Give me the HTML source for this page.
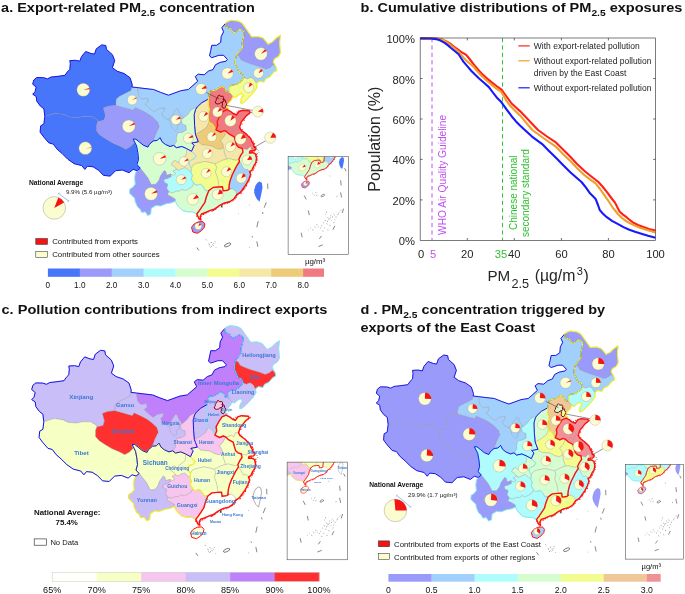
<!DOCTYPE html>
<html><head><meta charset="utf-8"><title>PM2.5 figure</title>
<style>html,body{margin:0;padding:0;background:#fff}svg{display:block}</style></head><body>
<svg width="685" height="594" viewBox="0 0 685 594" font-family="'Liberation Sans', Arial, sans-serif">
<rect width="685" height="594" fill="#fff"/>
<defs>
<path id="pXJ" d="M44.8,116.4 43.9,108.8 40.3,106 36.8,101.2 36.2,96.5 32.7,94.2 35,91.8 36.2,87.1 32.7,84.2 33.8,80 36.8,77.5 43.8,77.7 47.4,78.9 50.9,77.1 58,76.3 65,75.3 67.4,71.8 69.8,69.4 70.3,63.6 69.8,60.6 75.6,60.3 79.8,61.2 81.5,56.5 85.7,51.5 91,53.5 94.5,54.1 96.3,48.8 101.6,44.9 105.8,45.5 106.5,49.4 112.4,54.7 114.7,60.6 112.4,67.7 117.1,71.2 124.2,73.6 130,77.7 132.2,84.5 132,87 131.2,90.6 125.3,93.6 119.4,96.5 116.5,98.9 115.9,103.6 116.3,105.4 108.9,106.1 103.5,108.1 105.5,115.5 104.1,120.2 98,121.5 96.7,119.5 91.8,116.4 83,116.4 77.9,117.6 69.1,117 64.1,114.5 55.2,113.2Z"/>
<path id="pXZ" d="M44.8,116.4 55.2,113.2 64.1,114.5 69.1,117 77.9,117.6 83,116.4 91.8,116.4 96.7,119.5 98,121.5 96.7,124.9 96.7,131 100.1,135 106.2,139.1 112.9,143.1 121,146.5 125.7,149.2 130.4,146.5 133.8,143.1 133.1,139.1 136.5,145.8 137.8,152.5 138.5,159.3 137,164.6 140.2,168.2 137.1,170.6 133.1,169.4 129.1,172.7 122.3,170 115.6,170.7 110.2,176.1 103.5,175.4 98.6,170.3 93.1,166.8 87.4,166.2 84.9,169.4 81.7,165.6 74.2,163.7 67.9,159.3 62.2,153.6 57.1,149.2 53.3,144.1 48.9,142.9 43.9,137.2 40.1,132.1 40.7,125.8 43.9,123.9Z"/>
<path id="pQH" d="M98,121.5 104.1,120.2 105.5,115.5 103.5,108.1 108.9,106.1 116.3,105.4 123.7,107.4 133.1,110.1 135.1,107.4 141.2,110.1 147.9,113.5 153.3,117.5 158,122.2 159.4,126.9 156,133.7 154.6,137.7 153.3,140.9 149.3,144.4 147.9,147.1 143.2,145.1 139.2,141.8 135.8,139.1 133.1,139.1 133.8,143.1 130.4,146.5 125.7,149.2 121,146.5 112.9,143.1 106.2,139.1 100.1,135 96.7,131 96.7,124.9Z"/>
<path id="pGS" d="M116.3,105.4 115.9,103.6 116.5,98.9 119.4,96.5 125.3,93.6 131.2,90.6 132,87 137.5,87.6 138.8,95.9 141.8,98.8 147.7,98.2 148.3,101.8 145.3,104.1 148.8,107.7 154.1,111.8 158.3,108.8 164.7,107.7 164.2,111.2 161.8,113 163.6,117.1 167.7,119.4 171.5,116.5 174.2,111.8 176.5,108.8 178.3,109.4 178.9,111.8 181.8,116.5 183.6,118 181.2,119.4 182.4,124.2 185.9,125.3 186.5,130 182.4,132.4 177.7,133 176.5,137.1 176.5,141.8 174.5,144.5 176.5,147.7 173.6,145.4 170,146.5 165.4,144.4 162.1,141.8 160,137.7 157.3,140.4 153.3,140.9 154.6,137.7 156,133.7 159.4,126.9 158,122.2 153.3,117.5 147.9,113.5 141.2,110.1 135.1,107.4 133.1,110.1 123.7,107.4Z"/>
<path id="pIM" d="M137.5,87.6 143,88.3 153.6,89.5 160.7,92.4 168.5,95.2 180.9,90.7 188.3,89.5 193,85.4 197.7,81.2 195.3,76.5 198.3,74.2 204.2,74.8 208.3,71.2 213,69.5 215.4,64.8 220.1,62.4 226,61.2 227.4,59.5 223.6,55.3 218.9,55.3 211.8,57.7 209.5,55.9 210.7,50.6 211.8,45.3 216.5,45.3 220.7,42.4 221.2,36.5 223.6,31.8 221.8,27.7 225.7,23.2 226.2,27.3 230.3,28.4 233.4,32.9 237,31.4 240,28.9 244.1,31.9 243.6,37.5 242.1,42.7 242.6,47.8 239,51.9 236.5,54.9 235.4,60 235.4,64.1 237,67.2 238.9,72.3 242.7,73.6 244,77.5 241.2,81.5 236.5,84.4 231.8,85 229.5,86.8 229.5,92.4 225.9,91.5 225.3,88.5 221.8,86.2 215.3,90.3 210,90.9 208.3,99.1 201.8,102.7 197.2,107 191.2,110 187.7,114.7 183.6,118 181.8,116.5 178.9,111.8 178.3,109.4 176.5,108.8 174.2,111.8 171.5,116.5 167.7,119.4 163.6,117.1 161.8,113 164.2,111.2 164.7,107.7 158.3,108.8 154.1,111.8 148.8,107.7 145.3,104.1 148.3,101.8 147.7,98.2 141.8,98.8 138.8,95.9Z"/>
<path id="pHL" d="M225.7,23.2 227.3,21.7 231.4,20.2 238.5,21.2 242.1,23.2 245.7,28.3 249.7,34 251.8,37 257.9,36.5 263,38.1 266.1,41.6 268.1,44.2 272.2,42.1 276.3,38.1 280.4,35.3 279.6,42.7 280.4,52.9 278.4,56.5 274.3,59 273.2,62.1 276,67 273.2,65.1 270.2,67.7 266.1,69.2 261,67.2 255.9,65.6 250.8,64.1 245.7,62.1 241.1,60 239.5,57 236.5,54.9 239,51.9 242.6,47.8 242.1,42.7 243.6,37.5 244.1,31.9 240,28.9 237,31.4 233.4,32.9 230.3,28.4 226.2,27.3Z"/>
<path id="pJL" d="M236.5,54.9 239.5,57 241.1,60 245.7,62.1 250.8,64.1 255.9,65.6 261,67.2 266.1,69.2 270.2,67.7 273.2,65.1 276,67 276.8,70.6 273.8,72.1 270,76.7 265.5,78.9 263.9,82 259.4,81.2 256.4,83.5 254.1,79.7 251.1,77.4 247.3,78.9 244,77.5 242.7,73.6 238.9,72.3 237,67.2 235.4,64.1 235.4,60Z"/>
<path id="pLN" d="M244,77.5 247.3,78.9 251.1,77.4 254.1,79.7 256.4,83.5 257.1,87.3 254.1,91.8 250.3,96 246,100.3 242.4,103.3 240.7,103 241.2,98.6 243.5,95.5 241.2,93.3 238.3,95 235.5,97.5 233,96.8 229.5,92.4 229.5,86.8 231.8,85 236.5,84.4 241.2,81.5Z"/>
<path id="pHE" d="M208.3,99.1 210,90.9 215.3,90.3 221.8,86.2 225.3,88.5 225.9,91.5 229.5,92.4 233,96.8 231.2,100.3 227.7,103.9 226.5,107.4 228.9,108.6 227.1,109.7 223,111.5 219.5,116.8 217.1,121.5 217.7,125.6 215.9,129.8 212.4,123.9 208.9,122.1 208.3,115 209.4,109.2 208.3,105Z"/>
<path id="pSX" d="M197.2,107 201.8,102.7 208.3,99.1 208.3,105 209.4,109.2 208.3,115 208.9,122.1 207.1,126.8 202.4,130.4 196.5,133.9 195.4,134.2 194.6,125.3 194.2,114.7 195.6,109.5Z"/>
<path id="pSN" d="M183.6,118 187.7,114.7 191.2,110 197.2,107 195.6,109.5 194.2,114.7 194.6,125.3 195.4,134.2 196.5,137.1 198.3,141.8 191.8,143 194.2,145.4 191.5,151.3 186.5,148.5 181.8,146.5 176.5,147.7 174.5,144.5 176.5,141.8 176.5,137.1 177.7,133 182.4,132.4 186.5,130 185.9,125.3 182.4,124.2 181.2,119.4Z"/>
<path id="pHA" d="M195.4,134.2 196.5,133.9 202.4,130.4 207.1,126.8 208.9,122.1 212.4,123.9 215.9,129.8 220.6,132.1 224.2,130.6 226,131.2 225.4,134.2 224.2,136.5 220.7,140.6 223,144.2 223.6,147.7 220.1,149.5 215.4,148.3 211.2,145.9 206.5,145.3 201.8,144.8 198.3,141.8 196.5,137.1Z"/>
<path id="pSD" d="M215.9,129.8 217.7,125.6 217.1,121.5 219.5,116.8 223,111.5 227.1,109.7 230.6,111.5 233.6,113.9 236.5,115 238.9,111.5 242.4,110.3 249.5,110.9 250.1,112.7 246.5,115.6 243.6,119.2 241.2,122.1 240.1,125.6 239.5,127.4 236.5,127.4 234.8,131.5 232.4,129.8 228.3,131.5 226,131.2 224.2,130.6 220.6,132.1Z"/>
<path id="pJS" d="M226,131.2 228.3,131.5 232.4,129.8 234.8,131.5 236.5,127.4 239.5,127.4 241.2,130.4 246,133.9 250.7,138.6 251.8,141.5 253.6,144.4 253.6,146.2 251.8,146.8 249.5,147.4 247.1,149.7 244.2,149.1 242.4,148.6 238.9,147.4 236.5,145 235.3,140.9 234.2,136.8 229.4,134.2Z"/>
<path id="pAH" d="M226,131.2 229.4,134.2 234.2,136.8 235.3,140.9 236.5,145 238.9,147.4 242.4,148.6 243,152.1 240.6,155.6 238.9,159.2 236.5,160.3 233,159.7 229.4,158.6 226.5,159.2 225.3,155.6 224.1,152.1 223.6,147.7 223,144.2 220.7,140.6 224.2,136.5 225.4,134.2Z"/>
<path id="pHB" d="M198.3,141.8 201.8,144.8 206.5,145.3 211.2,145.9 215.4,148.3 220.1,149.5 223.6,147.7 224.1,152.1 225.3,155.6 226.5,159.2 222.4,160.3 218.8,162.1 215.3,163.9 210.6,162.7 204.7,161.5 200,162.7 196,163.5 193,165.3 191.5,168 189.5,165.3 188.9,161.8 191.2,160 194.2,158.8 196,155.9 191.5,151.3 194.2,145.4 191.8,143Z"/>
<path id="pZJ" d="M242.4,148.6 244.2,149.1 247.1,149.7 249.5,147.4 251.8,146.8 253.6,146.2 256,148.5 254.5,150.5 250,151 249.5,153 252.4,152.7 255.4,153.9 256.5,158 255.9,162.7 253.6,166.2 251.8,170.3 249.5,171.5 247.1,169.2 244.8,169.8 243,167.4 241.2,163.9 239.5,161.5 238.9,159.2 240.6,155.6 243,152.1Z"/>
<path id="pJX" d="M226.5,159.2 229.4,158.6 233,159.7 236.5,160.3 238.9,159.2 239.5,161.5 236.5,166.2 234.2,170.9 232.4,174.5 230.6,179.2 229.4,183.9 228.9,188.6 229.5,189 227.8,190.2 223.1,190.9 222.5,186.8 218.4,187 218.8,186.2 218.3,181.5 217.1,176.8 215.3,172.1 216.5,167.4 215.3,163.9 218.8,162.1 222.4,160.3Z"/>
<path id="pFJ" d="M239.5,161.5 241.2,163.9 243,167.4 244.8,169.8 247.1,169.2 249.5,171.5 250.6,174.5 248.9,179.2 246.5,183.9 243.6,188 240.6,192.1 236.6,194.9 235.9,191.6 232.6,188.9 229.5,189 228.9,188.6 229.4,183.9 230.6,179.2 232.4,174.5 234.2,170.9 236.5,166.2Z"/>
<path id="pGD" d="M208.8,190.6 213,187.5 218.4,187 222.5,186.8 223.1,190.9 227.8,190.2 229.5,189 232.6,188.9 235.9,191.6 236.6,194.9 233.9,199 229.9,201.7 224.5,203 219.1,205.7 214.4,209.1 210.3,210.4 205.6,212.5 201.6,213.8 200.2,216.5 200.9,219.9 198.9,218.5 196.8,214 199.5,210.4 202.2,206.4 204.9,202.3 206.3,197Z"/>
<path id="pHN" d="M191.5,168 193,165.3 196,163.5 200,162.7 204.7,161.5 210.6,162.7 215.3,163.9 216.5,167.4 215.3,172.1 217.1,176.8 218.3,181.5 218.8,186.2 218.4,187 213,187.5 208.8,190.6 205.4,190.6 203,186.5 200.7,184.2 196,185.3 193.8,183.5 191.2,179.4 192.4,175.3 190.7,172.4Z"/>
<path id="pCQ" d="M186.5,148.5 191.5,151.3 196,155.9 194.2,158.8 191.2,160 188.9,161.8 189.5,165.3 191.5,168 190.7,172.4 188.3,170 185.4,167.7 181.8,168.8 178.9,170.6 176.5,169.4 174.2,166.5 171.2,164.7 173,161.2 175.9,160.4 178.3,163 180.1,160 183.6,157.1 185.9,155.3 186.5,152.4Z"/>
<path id="pSC" d="M133.1,139.1 135.8,139.1 139.2,141.8 143.2,145.1 147.9,147.1 149.3,144.4 153.3,140.9 157.3,140.4 160,137.7 162.1,141.8 165.4,144.4 170,146.5 173.6,145.4 176.5,147.7 181.8,146.5 186.5,148.5 186.5,152.4 185.9,155.3 183.6,157.1 180.1,160 178.3,163 175.9,160.4 173,161.2 171.2,164.7 174.2,166.5 176.5,169.4 173,171.2 175.9,173.6 173.6,175.3 170.6,174.1 166.5,175.3 165.9,171.8 164.2,170.6 160.6,175.9 158.9,180.6 155.9,184.2 151.2,184.7 147.7,177.7 144.1,173 140.2,168.2 137,164.6 138.5,159.3 137.8,152.5 136.5,145.8Z"/>
<path id="pGZ" d="M170.6,174.1 173.6,175.3 175.9,173.6 173,171.2 176.5,169.4 178.9,170.6 181.8,168.8 185.4,167.7 188.3,170 190.7,172.4 192.4,175.3 191.2,179.4 193.8,183.5 192.4,186.5 188.9,188.9 185.4,190.6 181.8,189.5 179.5,191.2 176.5,191.2 172.4,193 168.9,191.8 166.5,188.3 167.7,184.2 164.2,182.4 163.6,179.4 167.7,178.3 171.2,176.5Z"/>
<path id="pYN" d="M140.2,168.2 144.1,173 147.7,177.7 151.2,184.7 155.9,184.2 158.9,180.6 160.6,175.9 164.2,170.6 165.9,171.8 166.5,175.3 170.6,174.1 171.2,176.5 167.7,178.3 163.6,179.4 164.2,182.4 167.7,184.2 166.5,188.3 168.9,191.8 167.7,194.8 171.2,196.5 175.3,198.9 175.3,201.2 170.6,203 166.5,203.6 160.6,205.9 155.9,205.4 151.2,208.3 150.6,214.2 147.7,215.4 145.3,211.8 141.8,212.4 140,208.9 137.7,207.1 135.3,201.8 134.7,198.3 131.8,195.3 129.5,193 130,188.9 132.4,187.7 135.3,184.2 134.7,178.3 135.3,173.6 137.1,170.6Z"/>
<path id="pGX" d="M168.9,191.8 172.4,193 176.5,191.2 179.5,191.2 181.8,189.5 185.4,190.6 188.9,188.9 192.4,186.5 193.8,183.5 196,185.3 200.7,184.2 203,186.5 205.4,190.6 208.8,190.6 206.3,197 204.9,202.3 202.2,206.4 199.5,210.4 196.8,214 192.4,211.8 187.7,211.8 183,210.7 179.5,207.7 177.1,204.8 175.3,201.2 175.3,198.9 171.2,196.5 167.7,194.8Z"/>
<path id="rNW" d="M137.1,170.6 133.1,169.4 129.1,172.7 122.3,170 115.6,170.7 110.2,176.1 103.5,175.4 98.6,170.3 93.1,166.8 87.4,166.2 84.9,169.4 81.7,165.6 74.2,163.7 67.9,159.3 62.2,153.6 57.1,149.2 53.3,144.1 48.9,142.9 43.9,137.2 40.1,132.1 40.7,125.8 43.9,123.9 44.8,116.4 43.9,108.8 40.3,106 36.8,101.2 36.2,96.5 32.7,94.2 35,91.8 36.2,87.1 32.7,84.2 33.8,80 36.8,77.5 43.8,77.7 47.4,78.9 50.9,77.1 58,76.3 65,75.3 67.4,71.8 69.8,69.4 70.3,63.6 69.8,60.6 75.6,60.3 79.8,61.2 81.5,56.5 85.7,51.5 91,53.5 94.5,54.1 96.3,48.8 101.6,44.9 105.8,45.5 106.5,49.4 112.4,54.7 114.7,60.6 112.4,67.7 117.1,71.2 124.2,73.6 130,77.7 132.2,84.5 132,87 137.5,87.6 143,88.3 153.6,89.5 160.7,92.4 168.5,95.2 180.9,90.7 188.3,89.5 193,85.4 197.7,81.2 195.3,76.5 198.3,74.2 204.2,74.8 208.3,71.2 213,69.5 215.4,64.8 220.1,62.4 226,61.2 227.4,59.5 223.6,55.3 218.9,55.3 211.8,57.7 209.5,55.9 210.7,50.6 211.8,45.3 216.5,45.3 220.7,42.4 221.2,36.5 223.6,31.8 221.8,27.7 225.7,23.2 226.2,27.3 230.3,28.4 233.4,32.9 237,31.4 240,28.9 244.1,31.9 243.6,37.5 242.1,42.7 242.6,47.8 239,51.9 236.5,54.9 235.4,60 235.4,64.1 237,67.2 238.9,72.3 242.7,73.6 244,77.5 241.2,81.5 236.5,84.4 231.8,85 229.5,86.8 229.5,92.4 225.9,91.5 225.3,88.5 221.8,86.2 215.3,90.3 210,90.9 208.3,99.1 201.8,102.7 197.2,107 195.6,109.5 194.2,114.7 194.6,125.3 195.4,134.2 196.5,137.1 198.3,141.8 191.8,143 194.2,145.4 191.5,151.3 186.5,148.5 181.8,146.5 176.5,147.7 173.6,145.4 170,146.5 165.4,144.4 162.1,141.8 160,137.7 157.3,140.4 153.3,140.9 149.3,144.4 147.9,147.1 143.2,145.1 139.2,141.8 135.8,139.1 133.1,139.1 136.5,145.8 137.8,152.5 138.5,159.3 137,164.6 140.2,168.2Z"/>
<path id="rNE" d="M225.7,23.2 227.3,21.7 231.4,20.2 238.5,21.2 242.1,23.2 245.7,28.3 249.7,34 251.8,37 257.9,36.5 263,38.1 266.1,41.6 268.1,44.2 272.2,42.1 276.3,38.1 280.4,35.3 279.6,42.7 280.4,52.9 278.4,56.5 274.3,59 273.2,62.1 276,67 276.8,70.6 273.8,72.1 270,76.7 265.5,78.9 263.9,82 259.4,81.2 256.4,83.5 257.1,87.3 254.1,91.8 250.3,96 246,100.3 242.4,103.3 240.7,103 241.2,98.6 243.5,95.5 241.2,93.3 238.3,95 235.5,97.5 233,96.8 231.2,100.3 227.7,103.9 226.5,107.4 228.9,108.6 227.1,109.7 223,111.5 219.5,116.8 217.1,121.5 217.7,125.6 215.9,129.8 212.4,123.9 208.9,122.1 208.3,115 209.4,109.2 208.3,105 208.3,99.1 210,90.9 215.3,90.3 221.8,86.2 225.3,88.5 225.9,91.5 229.5,92.4 229.5,86.8 231.8,85 236.5,84.4 241.2,81.5 244,77.5 242.7,73.6 238.9,72.3 237,67.2 235.4,64.1 235.4,60 236.5,54.9 239,51.9 242.6,47.8 242.1,42.7 243.6,37.5 244.1,31.9 240,28.9 237,31.4 233.4,32.9 230.3,28.4 226.2,27.3Z"/>
<path id="rSW" d="M133.1,139.1 135.8,139.1 139.2,141.8 143.2,145.1 147.9,147.1 149.3,144.4 153.3,140.9 157.3,140.4 160,137.7 162.1,141.8 165.4,144.4 170,146.5 173.6,145.4 176.5,147.7 181.8,146.5 186.5,148.5 191.5,151.3 196,155.9 194.2,158.8 191.2,160 188.9,161.8 189.5,165.3 191.5,168 190.7,172.4 192.4,175.3 191.2,179.4 193.8,183.5 196,185.3 200.7,184.2 203,186.5 205.4,190.6 208.8,190.6 206.3,197 204.9,202.3 202.2,206.4 199.5,210.4 196.8,214 192.4,211.8 187.7,211.8 183,210.7 179.5,207.7 177.1,204.8 175.3,201.2 170.6,203 166.5,203.6 160.6,205.9 155.9,205.4 151.2,208.3 150.6,214.2 147.7,215.4 145.3,211.8 141.8,212.4 140,208.9 137.7,207.1 135.3,201.8 134.7,198.3 131.8,195.3 129.5,193 130,188.9 132.4,187.7 135.3,184.2 134.7,178.3 135.3,173.6 137.1,170.6 140.2,168.2 137,164.6 138.5,159.3 137.8,152.5 136.5,145.8Z"/>
<path id="rEC" d="M215.9,129.8 217.7,125.6 217.1,121.5 219.5,116.8 223,111.5 227.1,109.7 230.6,111.5 233.6,113.9 236.5,115 238.9,111.5 242.4,110.3 249.5,110.9 250.1,112.7 246.5,115.6 243.6,119.2 241.2,122.1 240.1,125.6 239.5,127.4 241.2,130.4 246,133.9 250.7,138.6 251.8,141.5 253.6,144.4 253.6,146.2 256,148.5 254.5,150.5 250,151 249.5,153 252.4,152.7 255.4,153.9 256.5,158 255.9,162.7 253.6,166.2 251.8,170.3 249.5,171.5 250.6,174.5 248.9,179.2 246.5,183.9 243.6,188 240.6,192.1 236.6,194.9 233.9,199 229.9,201.7 224.5,203 219.1,205.7 214.4,209.1 210.3,210.4 205.6,212.5 201.6,213.8 200.2,216.5 200.9,219.9 198.9,218.5 196.8,214 199.5,210.4 202.2,206.4 204.9,202.3 206.3,197 208.8,190.6 213,187.5 218.4,187 222.5,186.8 223.1,190.9 227.8,190.2 229.5,189 228.9,188.6 229.4,183.9 230.6,179.2 232.4,174.5 234.2,170.9 236.5,166.2 239.5,161.5 238.9,159.2 240.6,155.6 243,152.1 242.4,148.6 238.9,147.4 236.5,145 235.3,140.9 234.2,136.8 229.4,134.2 226,131.2 224.2,130.6 220.6,132.1Z"/>
<path id="pHI" d="M191.5,227.3 194.2,223.9 198.2,221.9 202.9,221.5 204.9,223.9 204.3,227.3 201.6,230.6 197.5,233.3 192.8,232Z"/>
<path id="pTW" d="M259.5,181.5 261.9,182.8 262.5,187.5 261.5,192.9 260.2,199 259.5,201.7 256.8,199 254.8,194.9 254.1,190.2 255.5,185.5 257.5,182.8Z"/>
<path id="pBJ" d="M219,94.9 220.8,96.4 222.8,96.1 223.7,97.6 223.1,99.3 224.3,100.8 222.5,101.9 220.8,102.5 219.3,103.7 217.6,104 215.8,103.4 215.2,101.6 216.4,100.5 216.1,99 217.6,97.6 218.1,95.8Z"/>
<path id="pTJ" d="M223.1,99.3 224.3,99 225.4,100.5 225.7,102.2 226.9,103.7 226.3,105.4 225.4,107.2 224.3,108.4 222.8,107.8 221.9,106.3 222.5,104.9 222.2,103.1 222.5,101.9 224.3,100.8Z"/>
<path id="pSH" d="M251.8,146.8 253.6,146.2 256,148.5 254.5,150.5 251.5,150.2 250.5,148.3Z"/>
<path id="pNX" d="M167.7,119.4 170.6,121.2 171.2,126.5 175.3,130.6 177.7,128.9 177.1,125.3 179.5,124.2 180.6,119.4 183.6,118"/>
<g id="isl" fill="none" stroke="#111" stroke-width="0.5"><path d="M196.8,247.5L198.9,250.5M208.5,243.8L209.7,244.6M210.8,242L211.8,243M212.5,244.8L213.5,245.4M209.6,246.3L210.5,247.1M211.2,246L211.9,246.6M213.8,243.4L214.4,244M214.8,241.5L215.3,242.2M249.2,247.4L249.7,247.6M256.8,241.4L257.9,246.8M258.2,221.2L256.8,227.3M266.3,202.3L264.2,207.7M267.6,183.5L267.9,188.9M238.1,213.3L238.5,213.6M249.4,205L249.9,205.3M206,239.5L206.6,240.3M216,247.5L216.5,248M262.5,212L263,214M252,236L252.6,237.5M220.6,206.9L222.9,205.6M221,205.4L222.5,207.5M221.8,205L221.6,207.6M213.4,210.4L214.6,209.8M257.6,149.6L258.4,150.6M258.3,151.8L259,152.6M257.2,153.2L257.8,153.9M236.6,195.6L237.2,196.1M251.9,171.6L252.5,172.2M254.3,192.6L254.9,192.9"/><ellipse cx="227.6" cy="244.9" rx="3.4" ry="1.4" transform="rotate(-25 227.6 244.9)"/></g>
<g id="rough" fill="#ff1010"><circle cx="234.7" cy="113.3" r="0.6"/><circle cx="235.6" cy="114.3" r="0.6"/><circle cx="237" cy="112" r="0.6"/><circle cx="238.7" cy="110.8" r="0.4"/><circle cx="240.3" cy="110.8" r="0.5"/><circle cx="251.3" cy="112.3" r="0.6"/><circle cx="249.3" cy="114" r="0.4"/><circle cx="244.4" cy="120.2" r="0.5"/><circle cx="242" cy="123.2" r="0.4"/><circle cx="241.9" cy="124" r="0.6"/><circle cx="240.7" cy="124.8" r="0.4"/><circle cx="240.4" cy="127.6" r="0.4"/><circle cx="241.3" cy="129.9" r="0.5"/><circle cx="242.2" cy="129.6" r="0.6"/><circle cx="243.3" cy="131.4" r="0.5"/><circle cx="246.2" cy="133.5" r="0.4"/><circle cx="247.2" cy="134.7" r="0.4"/><circle cx="249.3" cy="136.3" r="0.5"/><circle cx="252.9" cy="141" r="0.6"/><circle cx="253.4" cy="142.1" r="0.7"/><circle cx="254.6" cy="143.7" r="0.6"/><circle cx="253.8" cy="144.6" r="0.7"/><circle cx="254.5" cy="146.4" r="0.6"/><circle cx="254.9" cy="146.9" r="0.6"/><circle cx="255.9" cy="147.3" r="0.6"/><circle cx="256.8" cy="149.5" r="0.4"/><circle cx="255.6" cy="150.2" r="0.4"/><circle cx="254.2" cy="151.4" r="0.4"/><circle cx="252.5" cy="152" r="0.6"/><circle cx="251.6" cy="151.2" r="0.4"/><circle cx="250.2" cy="152" r="0.7"/><circle cx="250.4" cy="152.4" r="0.6"/><circle cx="250.9" cy="152.6" r="0.5"/><circle cx="252.2" cy="151.7" r="0.6"/><circle cx="254" cy="152.7" r="0.6"/><circle cx="256.6" cy="154.2" r="0.7"/><circle cx="256.6" cy="156" r="0.6"/><circle cx="257" cy="156.5" r="0.7"/><circle cx="257" cy="158.9" r="0.6"/><circle cx="257.4" cy="159.8" r="0.4"/><circle cx="257.1" cy="160.5" r="0.5"/><circle cx="256.7" cy="162.4" r="0.6"/><circle cx="255.6" cy="164.2" r="0.6"/><circle cx="255.2" cy="165.9" r="0.6"/><circle cx="253.7" cy="167.3" r="0.6"/><circle cx="254" cy="168.1" r="0.7"/><circle cx="253.3" cy="169" r="0.5"/><circle cx="253.1" cy="170.2" r="0.6"/><circle cx="250.9" cy="171.3" r="0.4"/><circle cx="250.5" cy="171.5" r="0.5"/><circle cx="250.3" cy="172.1" r="0.6"/><circle cx="250.8" cy="174.7" r="0.7"/><circle cx="250.7" cy="176.8" r="0.5"/><circle cx="250.1" cy="177" r="0.5"/><circle cx="249.4" cy="179.2" r="0.4"/><circle cx="249.1" cy="180.3" r="0.6"/><circle cx="248.9" cy="181.9" r="0.6"/><circle cx="247.8" cy="182.3" r="0.4"/><circle cx="247" cy="183.7" r="0.4"/><circle cx="246.6" cy="185.1" r="0.6"/><circle cx="246.4" cy="185.9" r="0.7"/><circle cx="245.2" cy="187.5" r="0.4"/><circle cx="244.9" cy="188.3" r="0.5"/><circle cx="243.8" cy="189.5" r="0.7"/><circle cx="242.7" cy="189.9" r="0.6"/><circle cx="242.4" cy="191.3" r="0.4"/><circle cx="241.6" cy="192.8" r="0.5"/><circle cx="241" cy="193.3" r="0.6"/><circle cx="239.9" cy="193.4" r="0.5"/><circle cx="238.2" cy="194" r="0.6"/><circle cx="237" cy="195.1" r="0.5"/><circle cx="236.8" cy="195.2" r="0.5"/><circle cx="236.2" cy="197.3" r="0.7"/><circle cx="234.9" cy="198.1" r="0.4"/><circle cx="235.2" cy="198.8" r="0.6"/><circle cx="233.5" cy="200.2" r="0.5"/><circle cx="232.7" cy="201.2" r="0.4"/><circle cx="229.4" cy="202.3" r="0.5"/><circle cx="228.2" cy="202.3" r="0.7"/><circle cx="227.6" cy="203.4" r="0.5"/><circle cx="226" cy="202.9" r="0.5"/><circle cx="224.8" cy="204.2" r="0.4"/><circle cx="224.7" cy="203.7" r="0.6"/><circle cx="222.2" cy="204.6" r="0.6"/><circle cx="219.4" cy="205.8" r="0.4"/><circle cx="218.8" cy="206.6" r="0.5"/><circle cx="218.6" cy="207.3" r="0.4"/><circle cx="217.2" cy="207.6" r="0.5"/><circle cx="216.3" cy="208.5" r="0.5"/><circle cx="215.7" cy="209.3" r="0.6"/><circle cx="213.5" cy="210.3" r="0.6"/><circle cx="212.4" cy="210.9" r="0.7"/><circle cx="211.6" cy="211.3" r="0.4"/><circle cx="208.1" cy="212.5" r="0.4"/><circle cx="206.1" cy="213" r="0.6"/><circle cx="205.4" cy="213.6" r="0.4"/><circle cx="203.7" cy="214.4" r="0.7"/><circle cx="202.6" cy="214.6" r="0.5"/><circle cx="201.7" cy="214.2" r="0.4"/><circle cx="201.2" cy="216.2" r="0.5"/><circle cx="200.7" cy="216.6" r="0.6"/><circle cx="200.1" cy="220.9" r="0.5"/><circle cx="199.2" cy="219.6" r="0.5"/><circle cx="198.4" cy="217.9" r="0.6"/><circle cx="196.7" cy="216.2" r="0.5"/><circle cx="196.5" cy="215.3" r="0.4"/></g>
<g id="isl2" fill="none" stroke="#111"><path stroke-width="0.5" d="M344.6,168.2L346.1,171.2M340.6,180.3L341.2,185.4M340.6,192.4L341.6,197.5M343.6,208.6L342.2,213M334.9,225.8L332.9,229.8M321.4,235.9L319.4,238.9M301.2,232.8L302.2,237.3M308.3,210.6L309.3,215.1M304.2,195.5L306.3,199.5M318.4,246.6L322.8,244.9"/><path stroke-width="0.45" d="M312.3,193.4l0.5,-0.3M313.9,194.8l0.7,0.4M315.4,192.8l0.9,-0.5M316.4,195.5l0.9,-0.5M329.5,175.9l0.7,0.2M336.6,196.5l0.9,-0.3M325.5,214.6l0.5,0.4M327.5,217.7l0.9,0.4M330.5,215.7l0.7,-0.3M332.9,214.2l0.5,-0.3M335.6,216.7l0.9,0.4M337.6,214.6l0.9,-0.5M328.5,219.7l0.9,-0.5M331.5,220.7l0.5,-0.5M334.5,219.7l0.7,-0.5M323.4,222.7l0.7,0.4M326.5,223.7l0.9,0.4M329.5,225.2l0.9,0.4M321.4,225.8l0.7,0.4M318.4,226.8l0.5,0.2M315.4,227.8l0.5,-0.5M310.3,227.8l0.5,0.4M308.3,229.8l0.5,0.2M312.3,229.8l0.9,0.4M316.4,224.7l0.9,0.2M324.4,227.8l0.7,0.4M327.5,229.8l0.9,0.2M322.4,230.8l0.9,0.4M333.5,222.7l0.9,-0.3M338.6,213l0.7,-0.5M340.6,210.6l0.7,-0.3M326.1,212.2l0.9,0.2M329.7,218.3l0.9,-0.5M332.1,217.1l0.9,-0.3M324.8,220.3l0.9,0.2M320,228.4l0.7,-0.5M313.9,226.4l0.5,0.4M327.1,221.1l0.9,0.4M334.1,215.1l0.5,0.2"/><ellipse cx="322.8" cy="195.5" rx="2" ry="0.9" stroke-width="0.4" transform="rotate(-25 322.8 195.5)"/></g>
<g id="mapA">
<g stroke="#8c8c8c" stroke-width="0.3" stroke-linejoin="round">
<use href="#pXJ" fill="#4876fa"/>
<use href="#pXZ" fill="#4876fa"/>
<use href="#pQH" fill="#9a9afa"/>
<use href="#pGS" fill="#a2d0fc"/>
<use href="#pIM" fill="#a2d0fc"/>
<use href="#pHL" fill="#9a9afa"/>
<use href="#pJL" fill="#a2d0fc"/>
<use href="#pLN" fill="#f3fc8e"/>
<use href="#pHE" fill="#f07a80"/>
<use href="#pSX" fill="#f4e8a8"/>
<use href="#pSN" fill="#d6fdd0"/>
<use href="#pHA" fill="#eecb78"/>
<use href="#pSD" fill="#f07a80"/>
<use href="#pJS" fill="#f07a80"/>
<use href="#pAH" fill="#f4e8a8"/>
<use href="#pHB" fill="#f4e8a8"/>
<use href="#pZJ" fill="#d6fdd0"/>
<use href="#pJX" fill="#f3fc8e"/>
<use href="#pFJ" fill="#a2d0fc"/>
<use href="#pGD" fill="#d6fdd0"/>
<use href="#pHN" fill="#f3fc8e"/>
<use href="#pCQ" fill="#f4e8a8"/>
<use href="#pSC" fill="#d6fdd0"/>
<use href="#pGZ" fill="#b0fcfc"/>
<use href="#pYN" fill="#9a9afa"/>
<use href="#pGX" fill="#d6fdd0"/>
<use href="#pSH" fill="#f07a80" stroke="none"/>
<use href="#pNX" fill="none"/>
</g>
<use href="#pBJ" fill="#f07a80" stroke="#7a0c0c" stroke-width="1" stroke-linejoin="round"/>
<use href="#pTJ" fill="#f07a80" stroke="#7a0c0c" stroke-width="1" stroke-linejoin="round"/>
<g fill="none" stroke-linejoin="round">
<use href="#rSW" stroke="#78f0fc" stroke-width="0.9"/>
<use href="#rNW" stroke="#1414f0" stroke-width="1"/>
<use href="#rNE" stroke="#f4f41c" stroke-width="1.05"/>
<use href="#rEC" stroke="#ff1010" stroke-width="1.4"/>
</g>
<use href="#rough"/>
<use href="#pHI" fill="#9a9afa" stroke="#ff1010" stroke-width="1"/>
<use href="#pTW" fill="#4876fa" stroke="none" stroke-width="0.4"/>
<g stroke="#222" stroke-width="0.5">
<path d="M206.3,92.5L219.3,99"/>
<path d="M226.3,105.4L252.3,110.4"/>
<path d="M254.2,147.4L265.4,140.9"/>
</g>
<circle cx="83.3" cy="89.8" r="6.5" fill="#fbfdd0" stroke="#8a8a78" stroke-width="0.3"/><path d="M83.3,89.8 L89.5,88 A6.5,6.5 0 0 1 89.8,89.2 Z" fill="#f51414"/>
<circle cx="132.2" cy="100" r="4.9" fill="#fbfdd0" stroke="#8a8a78" stroke-width="0.3"/><path d="M132.2,100 L136.2,97.2 A4.9,4.9 0 0 1 136.8,98.3 Z" fill="#f51414"/>
<circle cx="128.7" cy="126.3" r="6.4" fill="#fbfdd0" stroke="#8a8a78" stroke-width="0.3"/><path d="M128.7,126.3 L134.1,122.8 A6.4,6.4 0 0 1 134.9,124.6 Z" fill="#f51414"/>
<circle cx="85.3" cy="148.2" r="6.4" fill="#fbfdd0" stroke="#8a8a78" stroke-width="0.3"/><path d="M85.3,148.2 L91.7,147.5 A6.4,6.4 0 0 1 91.7,148 Z" fill="#f51414"/>
<circle cx="159.6" cy="158.8" r="6.4" fill="#fbfdd0" stroke="#8a8a78" stroke-width="0.3"/><path d="M159.6,158.8 L165,155.3 A6.4,6.4 0 0 1 165.9,157.6 Z" fill="#f51414"/>
<circle cx="151" cy="193.8" r="6.5" fill="#fbfdd0" stroke="#8a8a78" stroke-width="0.3"/><path d="M151,193.8 L156.5,190.3 A6.5,6.5 0 0 1 157.4,192.5 Z" fill="#f51414"/>
<circle cx="227.5" cy="73.4" r="5.7" fill="#fbfdd0" stroke="#8a8a78" stroke-width="0.3"/><path d="M227.5,73.4 L231.6,69.4 A5.7,5.7 0 0 1 233,71.9 Z" fill="#f51414"/>
<circle cx="260.9" cy="53.9" r="6.3" fill="#fbfdd0" stroke="#8a8a78" stroke-width="0.3"/><path d="M260.9,53.9 L265,49.2 A6.3,6.3 0 0 1 266.5,51 Z" fill="#f51414"/>
<circle cx="258.5" cy="73.3" r="5" fill="#fbfdd0" stroke="#8a8a78" stroke-width="0.3"/><path d="M258.5,73.3 L260.9,68.9 A5,5 0 0 1 262.9,70.9 Z" fill="#f51414"/>
<circle cx="248.6" cy="87.6" r="5" fill="#fbfdd0" stroke="#8a8a78" stroke-width="0.3"/><path d="M248.6,87.6 L249.9,82.8 A5,5 0 0 1 252.5,84.5 Z" fill="#f51414"/>
<circle cx="201.2" cy="89.1" r="5.6" fill="#fbfdd0" stroke="#8a8a78" stroke-width="0.3"/><path d="M201.2,89.1 L205.4,85.4 A5.6,5.6 0 0 1 206.8,88.5 Z" fill="#f51414"/>
<circle cx="257.8" cy="111.6" r="5.5" fill="#fbfdd0" stroke="#8a8a78" stroke-width="0.3"/><path d="M257.8,111.6 L262.4,108.6 A5.5,5.5 0 0 1 263.2,112.5 Z" fill="#f51414"/>
<circle cx="217.5" cy="112.1" r="5" fill="#fbfdd0" stroke="#8a8a78" stroke-width="0.3"/><path d="M217.5,112.1 L219.8,107.7 A5,5 0 0 1 222,109.9 Z" fill="#f51414"/>
<circle cx="203.6" cy="116.4" r="5" fill="#fbfdd0" stroke="#8a8a78" stroke-width="0.3"/><path d="M203.6,116.4 L206,112 A5,5 0 0 1 208,114 Z" fill="#f51414"/>
<circle cx="230.4" cy="120.8" r="5.7" fill="#fbfdd0" stroke="#8a8a78" stroke-width="0.3"/><path d="M230.4,120.8 L232.2,115.4 A5.7,5.7 0 0 1 235,117.4 Z" fill="#f51414"/>
<circle cx="175.9" cy="119.8" r="4.9" fill="#fbfdd0" stroke="#8a8a78" stroke-width="0.3"/><path d="M175.9,119.8 L179.4,116.4 A4.9,4.9 0 0 1 180.7,118.8 Z" fill="#f51414"/>
<circle cx="188.3" cy="138.3" r="5" fill="#fbfdd0" stroke="#8a8a78" stroke-width="0.3"/><path d="M188.3,138.3 L192.2,135.1 A5,5 0 0 1 193.2,137.4 Z" fill="#f51414"/>
<circle cx="211.8" cy="136.8" r="4.8" fill="#fbfdd0" stroke="#8a8a78" stroke-width="0.3"/><path d="M211.8,136.8 L214.2,132.6 A4.8,4.8 0 0 1 215.9,134.3 Z" fill="#f51414"/>
<circle cx="240.6" cy="138.9" r="5.5" fill="#fbfdd0" stroke="#8a8a78" stroke-width="0.3"/><path d="M240.6,138.9 L243.1,134 A5.5,5.5 0 0 1 246,137.7 Z" fill="#f51414"/>
<circle cx="270.3" cy="137.7" r="5.6" fill="#fbfdd0" stroke="#8a8a78" stroke-width="0.3"/><path d="M270.3,137.7 L273,132.8 A5.6,5.6 0 0 1 275.9,137.8 Z" fill="#f51414"/>
<circle cx="230.4" cy="146.8" r="5" fill="#fbfdd0" stroke="#8a8a78" stroke-width="0.3"/><path d="M230.4,146.8 L232.7,142.3 A5,5 0 0 1 234.9,144.5 Z" fill="#f51414"/>
<circle cx="207.3" cy="153.6" r="5" fill="#fbfdd0" stroke="#8a8a78" stroke-width="0.3"/><path d="M207.3,153.6 L209.8,149.3 A5,5 0 0 1 211.6,151.1 Z" fill="#f51414"/>
<circle cx="183.8" cy="161.4" r="4.7" fill="#fbfdd0" stroke="#8a8a78" stroke-width="0.3"/><path d="M183.8,161.4 L187.5,158.5 A4.7,4.7 0 0 1 188.4,160.4 Z" fill="#f51414"/>
<circle cx="181.2" cy="179.7" r="5" fill="#fbfdd0" stroke="#8a8a78" stroke-width="0.3"/><path d="M181.2,179.7 L185,176.4 A5,5 0 0 1 186,178.4 Z" fill="#f51414"/>
<circle cx="206.1" cy="173.3" r="5" fill="#fbfdd0" stroke="#8a8a78" stroke-width="0.3"/><path d="M206.1,173.3 L208.6,169 A5,5 0 0 1 210.4,170.8 Z" fill="#f51414"/>
<circle cx="226.5" cy="171.8" r="5" fill="#fbfdd0" stroke="#8a8a78" stroke-width="0.3"/><path d="M226.5,171.8 L228.8,167.3 A5,5 0 0 1 231,169.5 Z" fill="#f51414"/>
<circle cx="247.1" cy="160" r="5" fill="#fbfdd0" stroke="#8a8a78" stroke-width="0.3"/><path d="M247.1,160 L249.8,155.8 A5,5 0 0 1 252.1,159.7 Z" fill="#f51414"/>
<circle cx="241.2" cy="178.2" r="5" fill="#fbfdd0" stroke="#8a8a78" stroke-width="0.3"/><path d="M241.2,178.2 L243.2,173.6 A5,5 0 0 1 245.8,176.2 Z" fill="#f51414"/>
<circle cx="217.7" cy="194.5" r="5.4" fill="#fbfdd0" stroke="#8a8a78" stroke-width="0.3"/><path d="M217.7,194.5 L219.7,189.5 A5.4,5.4 0 0 1 223,193.5 Z" fill="#f51414"/>
<circle cx="192.9" cy="199.3" r="5.8" fill="#fbfdd0" stroke="#8a8a78" stroke-width="0.3"/><path d="M192.9,199.3 L196.5,194.7 A5.8,5.8 0 0 1 198.6,198.1 Z" fill="#f51414"/>
<circle cx="198.2" cy="226.3" r="3.4" fill="#fbfdd0" stroke="#8a8a78" stroke-width="0.3"/><path d="M198.2,226.3 L199.7,223.3 A3.4,3.4 0 0 1 201.2,224.8 Z" fill="#f51414"/>
</g>
<g id="mapD">
<g stroke="#8c8c8c" stroke-width="0.3" stroke-linejoin="round">
<use href="#pXJ" fill="#9a9afa"/>
<use href="#pXZ" fill="#9a9afa"/>
<use href="#pQH" fill="#9a9afa"/>
<use href="#pGS" fill="#a2d0fc"/>
<use href="#pIM" fill="#a2d0fc"/>
<use href="#pHL" fill="#9a9afa"/>
<use href="#pJL" fill="#a2d0fc"/>
<use href="#pLN" fill="#b0fcfc"/>
<use href="#pHE" fill="#f0c898"/>
<use href="#pSX" fill="#d6fdd0"/>
<use href="#pSN" fill="#b0fcfc"/>
<use href="#pHA" fill="#f3fc8e"/>
<use href="#pSD" fill="#f09098"/>
<use href="#pJS" fill="#f09098"/>
<use href="#pAH" fill="#f3fc8e"/>
<use href="#pHB" fill="#d6fdd0"/>
<use href="#pZJ" fill="#d6fdd0"/>
<use href="#pJX" fill="#d6fdd0"/>
<use href="#pFJ" fill="#b0fcfc"/>
<use href="#pGD" fill="#f3fc8e"/>
<use href="#pHN" fill="#d6fdd0"/>
<use href="#pCQ" fill="#d6fdd0"/>
<use href="#pSC" fill="#b0fcfc"/>
<use href="#pGZ" fill="#b0fcfc"/>
<use href="#pYN" fill="#9a9afa"/>
<use href="#pGX" fill="#b0fcfc"/>
<use href="#pSH" fill="#f09098" stroke="none"/>
<use href="#pNX" fill="none"/>
</g>
<use href="#pBJ" fill="#d6fdd0" stroke="#7a0c0c" stroke-width="1" stroke-linejoin="round"/>
<use href="#pTJ" fill="#f3fc8e" stroke="#7a0c0c" stroke-width="1" stroke-linejoin="round"/>
<g fill="none" stroke-linejoin="round">
<use href="#rSW" stroke="#78f0fc" stroke-width="0.9"/>
<use href="#rNW" stroke="#1414f0" stroke-width="1"/>
<use href="#rNE" stroke="#f4f41c" stroke-width="1.05"/>
<use href="#rEC" stroke="#ff1010" stroke-width="1.4"/>
</g>
<use href="#rough"/>
<use href="#pHI" fill="#a2d0fc" stroke="#ff1010" stroke-width="1"/>
<use href="#pTW" fill="#9a9afa" stroke="none" stroke-width="0.4"/>
<g stroke="#222" stroke-width="0.5">
<path d="M206.3,92.5L219.3,99"/>
<path d="M226.3,105.4L252.3,110.4"/>
<path d="M254.2,147.4L265.4,140.9"/>
</g>
<circle cx="82.4" cy="89.8" r="6.5" fill="#fbfdd0" stroke="#8a8a78" stroke-width="0.3"/><path d="M82.4,89.8 L82.7,83.3 A6.5,6.5 0 0 1 88.9,90.1 Z" fill="#f51414"/>
<circle cx="131.3" cy="100" r="4.9" fill="#fbfdd0" stroke="#8a8a78" stroke-width="0.3"/><path d="M131.3,100 L131.6,95.1 A4.9,4.9 0 0 1 136.2,100.3 Z" fill="#f51414"/>
<circle cx="127.8" cy="126.3" r="6.4" fill="#fbfdd0" stroke="#8a8a78" stroke-width="0.3"/><path d="M127.8,126.3 L128.1,119.9 A6.4,6.4 0 0 1 134.2,126.6 Z" fill="#f51414"/>
<circle cx="84.4" cy="148.2" r="6.4" fill="#fbfdd0" stroke="#8a8a78" stroke-width="0.3"/><path d="M84.4,148.2 L84.7,141.8 A6.4,6.4 0 0 1 90.8,148.5 Z" fill="#f51414"/>
<circle cx="158.7" cy="158.8" r="6.4" fill="#fbfdd0" stroke="#8a8a78" stroke-width="0.3"/><path d="M158.7,158.8 L159,152.4 A6.4,6.4 0 0 1 165.1,159.5 Z" fill="#f51414"/>
<circle cx="150.1" cy="193.8" r="6.5" fill="#fbfdd0" stroke="#8a8a78" stroke-width="0.3"/><path d="M150.1,193.8 L150.4,187.3 A6.5,6.5 0 0 1 156.6,194.5 Z" fill="#f51414"/>
<circle cx="226.6" cy="73.4" r="5.7" fill="#fbfdd0" stroke="#8a8a78" stroke-width="0.3"/><path d="M226.6,73.4 L231.7,70.8 A5.7,5.7 0 0 1 232.2,72.1 Z" fill="#f51414"/>
<circle cx="260" cy="53.9" r="6.3" fill="#fbfdd0" stroke="#8a8a78" stroke-width="0.3"/><path d="M260,53.9 L260.3,47.6 A6.3,6.3 0 0 1 266.3,54.2 Z" fill="#f51414"/>
<circle cx="257.6" cy="73.3" r="5" fill="#fbfdd0" stroke="#8a8a78" stroke-width="0.3"/><path d="M257.6,73.3 L257.9,68.3 A5,5 0 0 1 262.6,73.6 Z" fill="#f51414"/>
<circle cx="247.7" cy="87.6" r="5" fill="#fbfdd0" stroke="#8a8a78" stroke-width="0.3"/><path d="M247.7,87.6 L248,82.6 A5,5 0 0 1 252.7,87.9 Z" fill="#f51414"/>
<circle cx="200.3" cy="89.1" r="5.6" fill="#fbfdd0" stroke="#8a8a78" stroke-width="0.3"/><path d="M200.3,89.1 L200.6,83.5 A5.6,5.6 0 0 1 205.9,89.4 Z" fill="#f51414"/>
<circle cx="256.9" cy="111.6" r="5.5" fill="#fbfdd0" stroke="#8a8a78" stroke-width="0.3"/><path d="M256.9,111.6 L257.2,106.1 A5.5,5.5 0 0 1 262.4,112.2 Z" fill="#f51414"/>
<circle cx="216.6" cy="112.1" r="5" fill="#fbfdd0" stroke="#8a8a78" stroke-width="0.3"/><path d="M216.6,112.1 L216.9,107.1 A5,5 0 0 1 221.6,112.4 Z" fill="#f51414"/>
<circle cx="202.7" cy="116.4" r="5" fill="#fbfdd0" stroke="#8a8a78" stroke-width="0.3"/><path d="M202.7,116.4 L203,111.4 A5,5 0 0 1 207.7,117 Z" fill="#f51414"/>
<circle cx="229.5" cy="120.8" r="5.7" fill="#fbfdd0" stroke="#8a8a78" stroke-width="0.3"/><path d="M229.5,120.8 L229.8,115.1 A5.7,5.7 0 0 1 233.7,124.7 Z" fill="#f51414"/>
<circle cx="175" cy="119.8" r="4.9" fill="#fbfdd0" stroke="#8a8a78" stroke-width="0.3"/><path d="M175,119.8 L175.3,114.9 A4.9,4.9 0 0 1 179.9,120.1 Z" fill="#f51414"/>
<circle cx="187.4" cy="138.3" r="5" fill="#fbfdd0" stroke="#8a8a78" stroke-width="0.3"/><path d="M187.4,138.3 L187.7,133.3 A5,5 0 0 1 192.4,138.6 Z" fill="#f51414"/>
<circle cx="210.9" cy="136.8" r="4.8" fill="#fbfdd0" stroke="#8a8a78" stroke-width="0.3"/><path d="M210.9,136.8 L211.2,132 A4.8,4.8 0 0 1 215.3,138.8 Z" fill="#f51414"/>
<circle cx="239.7" cy="138.9" r="5.5" fill="#fbfdd0" stroke="#8a8a78" stroke-width="0.3"/><path d="M239.7,138.9 L240,133.4 A5.5,5.5 0 0 1 242.7,143.5 Z" fill="#f51414"/>
<circle cx="269.4" cy="137.7" r="5.6" fill="#fbfdd0" stroke="#8a8a78" stroke-width="0.3"/><path d="M269.4,137.7 L269.7,132.1 A5.6,5.6 0 0 1 274.3,140.3 Z" fill="#f51414"/>
<circle cx="229.5" cy="146.8" r="5" fill="#fbfdd0" stroke="#8a8a78" stroke-width="0.3"/><path d="M229.5,146.8 L229.8,141.8 A5,5 0 0 1 233.4,149.9 Z" fill="#f51414"/>
<circle cx="206.4" cy="153.6" r="5" fill="#fbfdd0" stroke="#8a8a78" stroke-width="0.3"/><path d="M206.4,153.6 L206.7,148.6 A5,5 0 0 1 211.3,154.8 Z" fill="#f51414"/>
<circle cx="182.9" cy="161.4" r="4.7" fill="#fbfdd0" stroke="#8a8a78" stroke-width="0.3"/><path d="M182.9,161.4 L183.1,156.7 A4.7,4.7 0 0 1 187.6,161.6 Z" fill="#f51414"/>
<circle cx="180.3" cy="179.7" r="5" fill="#fbfdd0" stroke="#8a8a78" stroke-width="0.3"/><path d="M180.3,179.7 L180.6,174.7 A5,5 0 0 1 185.1,181.2 Z" fill="#f51414"/>
<circle cx="205.2" cy="173.3" r="5" fill="#fbfdd0" stroke="#8a8a78" stroke-width="0.3"/><path d="M205.2,173.3 L205.5,168.3 A5,5 0 0 1 210.1,174.2 Z" fill="#f51414"/>
<circle cx="225.6" cy="171.8" r="5" fill="#fbfdd0" stroke="#8a8a78" stroke-width="0.3"/><path d="M225.6,171.8 L225.9,166.8 A5,5 0 0 1 230.1,173.9 Z" fill="#f51414"/>
<circle cx="246.2" cy="160" r="5" fill="#fbfdd0" stroke="#8a8a78" stroke-width="0.3"/><path d="M246.2,160 L246.5,155 A5,5 0 0 1 249.9,163.4 Z" fill="#f51414"/>
<circle cx="240.3" cy="178.2" r="5" fill="#fbfdd0" stroke="#8a8a78" stroke-width="0.3"/><path d="M240.3,178.2 L240.6,173.2 A5,5 0 0 1 244.4,181.1 Z" fill="#f51414"/>
<circle cx="216.8" cy="194.5" r="5.4" fill="#fbfdd0" stroke="#8a8a78" stroke-width="0.3"/><path d="M216.8,194.5 L217.1,189.1 A5.4,5.4 0 0 1 221.2,197.6 Z" fill="#f51414"/>
<circle cx="192" cy="199.3" r="5.8" fill="#fbfdd0" stroke="#8a8a78" stroke-width="0.3"/><path d="M192,199.3 L192.3,193.5 A5.8,5.8 0 0 1 197.4,201.4 Z" fill="#f51414"/>
<circle cx="197.3" cy="226.3" r="3.4" fill="#fbfdd0" stroke="#8a8a78" stroke-width="0.3"/><path d="M197.3,226.3 L197.5,222.9 A3.4,3.4 0 0 1 199.8,228.6 Z" fill="#f51414"/>
</g>
<g id="mapC">
<g stroke="#8c8c8c" stroke-width="0.3" stroke-linejoin="round">
<use href="#pXJ" fill="#cabef8"/>
<use href="#pXZ" fill="#f6ffc4"/>
<use href="#pQH" fill="#ff3030"/>
<use href="#pGS" fill="#cabef8"/>
<use href="#pIM" fill="#c080fc"/>
<use href="#pHL" fill="#cabef8"/>
<use href="#pJL" fill="#ff3030"/>
<use href="#pLN" fill="#cabef8"/>
<use href="#pHE" fill="#cabef8"/>
<use href="#pSX" fill="#cabef8"/>
<use href="#pSN" fill="#f6c6ee"/>
<use href="#pHA" fill="#f6c6ee"/>
<use href="#pSD" fill="#f6ffc4"/>
<use href="#pJS" fill="#f6ffc4"/>
<use href="#pAH" fill="#f6ffc4"/>
<use href="#pHB" fill="#f6ffc4"/>
<use href="#pZJ" fill="#f6ffc4"/>
<use href="#pJX" fill="#f6ffc4"/>
<use href="#pFJ" fill="#f6ffc4"/>
<use href="#pGD" fill="#fffffb"/>
<use href="#pHN" fill="#f6ffc4"/>
<use href="#pCQ" fill="#f6ffc4"/>
<use href="#pSC" fill="#f6ffc4"/>
<use href="#pGZ" fill="#f6c6ee"/>
<use href="#pYN" fill="#cabef8"/>
<use href="#pGX" fill="#f6c6ee"/>
<use href="#pSH" fill="#f6ffc4" stroke="none"/>
<use href="#pNX" fill="none"/>
</g>
<use href="#pBJ" fill="#f6c6ee" stroke="#7a0c0c" stroke-width="1" stroke-linejoin="round"/>
<use href="#pTJ" fill="#cabef8" stroke="#7a0c0c" stroke-width="1" stroke-linejoin="round"/>
<g fill="none" stroke-linejoin="round">
<use href="#rSW" stroke="#f4f41c" stroke-width="1.05"/>
<use href="#rNW" stroke="#1414f0" stroke-width="1"/>
<use href="#rNE" stroke="#78f0fc" stroke-width="0.9"/>
<use href="#rEC" stroke="#ff1010" stroke-width="1.4"/>
</g>
<use href="#rough"/>
<use href="#pHI" fill="#ffffd8" stroke="#ff1010" stroke-width="1"/>
<use href="#pTW" fill="#ffffff" stroke="#333" stroke-width="0.4"/>
</g>
<clipPath id="clipIn"><rect x="288.1" y="156.7" width="60.6" height="97.7"/></clipPath>
</defs>
<g id="panelA">
<use href="#mapA"/><use href="#isl"/>
<g clip-path="url(#clipIn)"><rect x="288.1" y="156.7" width="60.6" height="97.7" fill="#fff"/><use href="#mapA" transform="translate(186.5,48) scale(0.6)"/><use href="#isl2"/></g>
<rect x="288.1" y="156.7" width="60.6" height="97.7" fill="none" stroke="#333" stroke-width="0.5"/>
<text x="304.9" y="264.2" font-size="7.9" fill="#111">µg/m³</text>
<text x="29" y="184.9" font-size="6.7" font-weight="bold" fill="#111">National Average</text>
<text x="65.9" y="194.4" font-size="6.2" fill="#222">9.9% (5.6 µg/m³)</text>
<circle cx="54.3" cy="207.9" r="11.3" fill="#fbfdd0" stroke="#8a8a78" stroke-width="0.4"/><path d="M54.3,207.9 L58.3,197.4 A11.3,11.3 0 0 1 64.1,202.4 Z" fill="#f51414"/>
<path d="M58.6,193.5 L68.5,200.9 M58,194.4 L59.2,192.6 M67.9,201.8 L69.1,200" stroke="#3a78e0" stroke-width="0.5" fill="none"/>
<rect x="35.8" y="238.5" width="11.7" height="5.9" fill="#f51414" stroke="#222" stroke-width="0.5"/>
<rect x="35.8" y="251.4" width="11.7" height="5.9" fill="#fbfdd0" stroke="#222" stroke-width="0.5"/>
<text x="52.2" y="244.2" font-size="7.8" fill="#111">Contributed from exports</text>
<text x="52.2" y="257.2" font-size="7.8" fill="#111">Contributed from other sources</text>
<rect x="47.9" y="268.5" width="32.2" height="8.3" fill="#4876fa"/>
<rect x="79.8" y="268.5" width="32.2" height="8.3" fill="#9a9afa"/>
<rect x="111.7" y="268.5" width="32.2" height="8.3" fill="#a2d0fc"/>
<rect x="143.6" y="268.5" width="32.2" height="8.3" fill="#b0fcfc"/>
<rect x="175.5" y="268.5" width="32.2" height="8.3" fill="#d6fdd0"/>
<rect x="207.4" y="268.5" width="32.2" height="8.3" fill="#f3fc8e"/>
<rect x="239.3" y="268.5" width="32.2" height="8.3" fill="#f4e8a8"/>
<rect x="271.2" y="268.5" width="32.2" height="8.3" fill="#eecb78"/>
<rect x="303.1" y="268.5" width="20.9" height="8.3" fill="#f07a80"/>
<g font-size="8.8" text-anchor="middle" fill="#111" transform="scale(0.93,1)">
<text x="51.5" y="288">0</text>
<text x="85.8" y="288">1.0</text>
<text x="120.1" y="288">2.0</text>
<text x="154.4" y="288">3.0</text>
<text x="188.7" y="288">4.0</text>
<text x="223" y="288">5.0</text>
<text x="257.3" y="288">6.0</text>
<text x="291.6" y="288">7.0</text>
<text x="325.9" y="288">8.0</text>
</g>
</g>
<g id="panelC" transform="translate(-1,305.4)">
<use href="#mapC"/><use href="#isl"/>
<g clip-path="url(#clipIn)"><rect x="288.1" y="156.7" width="60.6" height="97.7" fill="#fff"/><use href="#mapC" transform="translate(186.5,48) scale(0.6)"/><use href="#isl2"/></g>
<rect x="288.1" y="156.7" width="60.6" height="97.7" fill="none" stroke="#333" stroke-width="0.5"/>
</g>
<g font-weight="bold" fill="#3a78d4" text-anchor="middle">
<text x="81.3" y="398.5" font-size="6.2">Xinjiang</text>
<text x="81.5" y="455.3" font-size="6.2">Tibet</text>
<text x="122.9" y="432.9" font-size="6.2">Qinghai</text>
<text x="125.1" y="407.4" font-size="5.8">Gansu</text>
<text x="218.5" y="384.7" font-size="5.8">Inner Mongolia</text>
<text x="259" y="356.6" font-size="5.6">Heilongjiang</text>
<text x="254.7" y="378.9" font-size="5.4">Jilin</text>
<text x="243" y="394" font-size="5.4">Liaoning</text>
<text x="210.2" y="403.1" font-size="3.4">Beijing</text>
<text x="227" y="411" font-size="3.4">Tianjin</text>
<text x="213.7" y="415.8" font-size="4.2">Hebei</text>
<text x="200.7" y="422.1" font-size="4.6">Shanxi</text>
<text x="234.2" y="427.1" font-size="5">Shandong</text>
<text x="170.6" y="424.7" font-size="5">Ningxia</text>
<text x="182.7" y="444.3" font-size="4.8">Shaanxi</text>
<text x="206.3" y="443.9" font-size="4.8">Henan</text>
<text x="244.7" y="444.5" font-size="4.6">Jiangsu</text>
<text x="257.8" y="453.5" font-size="4.6">Shanghai</text>
<text x="228" y="456.2" font-size="5">Anhui</text>
<text x="204.6" y="462.3" font-size="5">Hubei</text>
<text x="155.3" y="465.3" font-size="6.4">Sichuan</text>
<text x="177.2" y="470" font-size="4.5">Chongqing</text>
<text x="250.6" y="467.6" font-size="5">Zhejiang</text>
<text x="225.4" y="473.8" font-size="5.2">Jiangxi</text>
<text x="202" y="481.5" font-size="5.2">Hunan</text>
<text x="240.1" y="484" font-size="5">Fujian</text>
<text x="177.2" y="488.4" font-size="5">Guizhou</text>
<text x="258.9" y="498.5" font-size="4.4">Taiwan</text>
<text x="146.9" y="501.6" font-size="5.6">Yunnan</text>
<text x="187.1" y="506.5" font-size="5.2">Guangxi</text>
<text x="219.9" y="502.7" font-size="5.4">Guangdong</text>
<text x="232.4" y="515.8" font-size="3.9">Hong Kong</text>
<text x="215.7" y="522.5" font-size="3.6">Macao</text>
<text x="198.8" y="535.4" font-size="4.6">Hainan</text>
</g>
<g font-weight="bold" fill="#3a78d4" text-anchor="middle" font-size="2.9">
<text x="299.1" y="473.8">Guangxi</text><text x="318.6" y="472.1">Guangdong</text><text x="326.4" y="478.7" font-size="2.3">Hong Kong</text><text x="317.7" y="483" font-size="2.3">Macao</text><text x="305.6" y="490.9">Hainan</text><text x="342.6" y="468.7">Taiwan</text>
</g>
<text x="67.2" y="515.2" font-size="7.9" font-weight="bold" text-anchor="middle" fill="#111">National Average:</text>
<text x="66.7" y="524.8" font-size="7.9" font-weight="bold" text-anchor="middle" fill="#111">75.4%</text>
<rect x="34.2" y="538.9" width="12.2" height="6.3" fill="#fff" stroke="#222" stroke-width="0.6"/>
<text x="50.4" y="544.7" font-size="7.6" fill="#111">No Data</text>
<rect x="52.2" y="572.3" width="44.8" height="9.2" fill="#fffffb"/>
<rect x="96.7" y="572.3" width="44.8" height="9.2" fill="#f6ffc4"/>
<rect x="141.2" y="572.3" width="44.8" height="9.2" fill="#f6c6ee"/>
<rect x="185.6" y="572.3" width="44.8" height="9.2" fill="#cabef8"/>
<rect x="230.1" y="572.3" width="44.8" height="9.2" fill="#c080fc"/>
<rect x="274.6" y="572.3" width="44.8" height="9.2" fill="#ff3030"/>
<rect x="52.2" y="572.3" width="266.9" height="9.2" fill="none" stroke="#c8c8c8" stroke-width="0.5"/>
<g font-size="9.4" text-anchor="middle" fill="#111" transform="scale(0.97,1)">
<text x="53.8" y="592.8">65%</text>
<text x="99.7" y="592.8">70%</text>
<text x="145.5" y="592.8">75%</text>
<text x="191.4" y="592.8">80%</text>
<text x="237.2" y="592.8">85%</text>
<text x="283.1" y="592.8">90%</text>
<text x="328.9" y="592.8">100%</text>
</g>
<g id="panelD">
<g transform="translate(344.4,311.4) scale(0.9762,0.973)"><use href="#mapD"/><use href="#isl"/></g>
<clipPath id="clipInD"><rect x="625.5" y="464.5" width="57.8" height="94.6"/></clipPath>
<g clip-path="url(#clipInD)"><rect x="625.5" y="464.5" width="57.8" height="94.6" fill="#fff"/><use href="#mapD" transform="translate(522.8,353.9) scale(0.6)"/><use href="#isl2" transform="translate(348.9,314.1) scale(0.96)"/></g>
<rect x="625.5" y="464.5" width="57.8" height="94.6" fill="none" stroke="#333" stroke-width="0.5"/>
</g>
<text x="641.6" y="569.1" font-size="7.5" fill="#111">µg/m³</text>
<text x="369.2" y="486.8" font-size="6.7" font-weight="bold" fill="#111">National Average</text>
<text x="408" y="497" font-size="6.2" fill="#222">29.9% (1.7 µg/m³)</text>
<circle cx="395.4" cy="510.5" r="11.2" fill="#fbfdd0" stroke="#8a8a78" stroke-width="0.4"/><path d="M395.4,510.5 L394.4,499.3 A11.2,11.2 0 0 1 406.6,510.5 Z" fill="#f51414"/>
<path d="M396.8,495.5 L410.5,506.8 M396.2,496.4 L397.4,494.6 M409.9,507.7 L411.1,505.9" stroke="#3a78e0" stroke-width="0.5" fill="none"/>
<rect x="378.4" y="540.9" width="11.2" height="5.8" fill="#f51414" stroke="#222" stroke-width="0.5"/>
<rect x="378.4" y="553.5" width="11.2" height="5.8" fill="#fbfdd0" stroke="#222" stroke-width="0.5"/>
<text x="394.1" y="546.8" font-size="7.75" fill="#111">Contributed from exports of the East Coast</text>
<text x="394.1" y="559.6" font-size="7.75" fill="#111">Contributed from exports of other regions</text>
<rect x="388.4" y="574" width="43.4" height="7.7" fill="#9a9afa"/>
<rect x="431.5" y="574" width="43.4" height="7.7" fill="#a2d0fc"/>
<rect x="474.6" y="574" width="43.4" height="7.7" fill="#b0fcfc"/>
<rect x="517.6" y="574" width="43.4" height="7.7" fill="#d6fdd0"/>
<rect x="560.7" y="574" width="43.4" height="7.7" fill="#f3fc8e"/>
<rect x="603.8" y="574" width="43.4" height="7.7" fill="#f0c898"/>
<rect x="646.9" y="574" width="13.8" height="7.7" fill="#f09098"/>
<g font-size="8.7" text-anchor="middle" fill="#111" transform="scale(1.0,1)">
<text x="388.4" y="592.9">0</text>
<text x="431.5" y="592.9">0.5</text>
<text x="474.6" y="592.9">1.0</text>
<text x="517.6" y="592.9">1.5</text>
<text x="560.7" y="592.9">2.0</text>
<text x="603.8" y="592.9">2.5</text>
<text x="646.9" y="592.9">3.0</text>
</g>
<g id="panelB">
<path d="M432,38 V240.4" stroke="#c050f0" stroke-width="1" stroke-dasharray="4.2,3.2" fill="none"/>
<path d="M502.5,38 V240.4" stroke="#30c030" stroke-width="1" stroke-dasharray="4.2,3.2" fill="none"/>
<path d="M420.2,38.4 436,38.5 440.9,39 446,41.2 451,44.2 456,48.2 461.1,51.8 466.2,54.8 470,59.5 473.7,64.4 477.5,69 481.3,73.2 486,77.6 491.4,82.1 496.5,86 501.5,89.6 506.5,96.5 511.6,103.5 516,107.5 520,111.1 529,120.5 538,130 547,136.5 556.2,142.7 563,149.5 570.3,156.7 577,164 584.3,170.8 591,176.2 598.4,182 602.5,186.5 606.8,191.9 611,197.5 615.3,203.1 619.5,211.5 623,214.6 626.5,217.2 630,220.2 633.5,222.8 638,225 643.4,227 649,229 655.5,230.6" fill="none" stroke="#ff2018" stroke-width="2.1" stroke-linejoin="round"/>
<path d="M420.2,38.4 437,38.6 443.4,39.9 447,42.4 451,45.5 455,48.8 458.6,51.8 462.5,56.4 466.2,60.6 470,63.8 473.7,66.9 477.5,71.5 481.3,75.8 486,80 491.4,84.6 496.5,88.6 501.5,92.2 504,96.5 506.6,101 510,105.6 514.1,109.8 520,115.4 526,122.5 532.3,130 544,138.5 556.2,146.9 563,154 570.3,160.9 577,168 584.3,175 590,179.4 595.6,183.4 600,189 604,194.7 608.5,201 612.5,207.3 615.5,211 618.1,214.3 622,218 626.5,221.4 630.5,223.6 634.9,225.6 640,227.8 646.2,229.8 655.5,232.6" fill="none" stroke="#f0a028" stroke-width="2.1" stroke-linejoin="round"/>
<path d="M420.2,38.4 431,38.5 435.9,39.1 440.5,40.6 444.7,42.9 448,45.4 451,48 455,51.2 458.6,54.3 461,58 463.6,61.9 467.5,66.4 471.2,70.7 475,74.6 478.8,78.3 484,82.8 488.9,87.1 492.5,92 496.5,97.2 501.5,102.3 506.5,109.3 511.6,116.2 516,121.4 520,125.5 524,129.2 532,136.6 542.2,144.1 549,151 556.2,158.1 563,165 570.3,172.2 576,177.2 581.5,182 586,187.7 590,193.3 593,196.2 595.6,198.9 597.8,204.5 599.8,210.1 603,213.8 606.8,217.2 612,220.9 618.1,224.2 623.5,227.1 629.3,229.8 635,231.8 640.6,233.5 648,235.8 655.5,237.7" fill="none" stroke="#1818ff" stroke-width="2.1" stroke-linejoin="round"/>
<path d="M467.3,240.4 v-2.4 M467.3,38 v2.4 M514.3,240.4 v-2.4 M514.3,38 v2.4 M561.4,240.4 v-2.4 M561.4,38 v2.4 M608.4,240.4 v-2.4 M608.4,38 v2.4 M420.2,199.9 h2.4 M655.5,199.9 h-2.4 M420.2,159.4 h2.4 M655.5,159.4 h-2.4 M420.2,119 h2.4 M655.5,119 h-2.4 M420.2,78.5 h2.4 M655.5,78.5 h-2.4" stroke="#333" stroke-width="0.7" fill="none"/>
<rect x="420.2" y="38" width="235.3" height="202.4" fill="none" stroke="#444" stroke-width="0.7"/>
<g font-size="11.2" fill="#262626" text-anchor="end">
<text x="415" y="245.4">0%</text>
<text x="415" y="204.9">20%</text>
<text x="415" y="164.4">40%</text>
<text x="415" y="124">60%</text>
<text x="415" y="83.5">80%</text>
<text x="415" y="43">100%</text>
</g>
<g font-size="11.2" fill="#262626" text-anchor="middle">
<text x="421.2" y="257.6">0</text>
<text x="467.3" y="257.6">20</text>
<text x="514.3" y="257.6">40</text>
<text x="561.4" y="257.6">60</text>
<text x="608.4" y="257.6">80</text>
<text x="655.5" y="257.6">100</text>
<text x="433" y="257.6" fill="#c050f0">5</text>
<text x="501" y="257.6" fill="#30c030">35</text>
</g>
<text transform="translate(380.2,191.7) rotate(-90)" font-size="16" fill="#262626">Population (%)</text>
<g fill="#262626"><text x="487.4" y="281" font-size="15.2">PM</text><text x="511.5" y="288" font-size="12.7">2.5</text><text x="534.7" y="281" font-size="15.8">(µg/m</text><text x="576.7" y="275.4" font-size="11">3</text><text x="583.4" y="281" font-size="15.8">)</text></g>
<text transform="translate(445.8,234.9) rotate(-90)" font-size="10.2" fill="#c050f0">WHO Air Quality Guideline</text>
<text transform="translate(516.5,230) rotate(-90)" font-size="10" fill="#30c030">Chinese national</text>
<text transform="translate(528.7,237) rotate(-90)" font-size="10" fill="#30c030">secondary standard</text>
<path d="M518.4,45.9 H529.7" stroke="#ff2018" stroke-width="1.2"/>
<path d="M518.4,60.8 H529.7" stroke="#f0a028" stroke-width="1.2"/>
<path d="M518.4,87.8 H529.7" stroke="#1818ff" stroke-width="1.2"/>
<g font-size="8.5" fill="#222">
<text x="533.8" y="48.8">With export-related pollution</text>
<text x="533.8" y="63.7">Without export-related pollution</text>
<text x="533.8" y="75.8">driven by the East Coast</text>
<text x="533.8" y="90.7">Without export-related pollution</text>
</g>
</g>
<g font-size="13.2" font-weight="bold" fill="#111">
<text transform="translate(1.1,11.8) scale(1.097,1)">a. Export-related PM<tspan font-size="9.3" dy="3.8">2.5</tspan><tspan dy="-3.8"> concentration</tspan></text>
<text transform="translate(360.5,11.8) scale(1.102,1)">b. Cumulative distributions of PM<tspan font-size="9.3" dy="3.8">2.5</tspan><tspan dy="-3.8"> exposures</tspan></text>
<text transform="translate(1.5,314) scale(1.107,1)">c. Pollution contributions from indirect exports</text>
<text transform="translate(360.5,314.2) scale(1.099,1)">d . PM<tspan font-size="9.3" dy="3.8">2.5</tspan><tspan dy="-3.8"> concentration triggered by</tspan></text>
<text transform="translate(360.5,331.6) scale(1.0975,1)">exports of the East Coast</text>
</g>
</svg></body></html>
